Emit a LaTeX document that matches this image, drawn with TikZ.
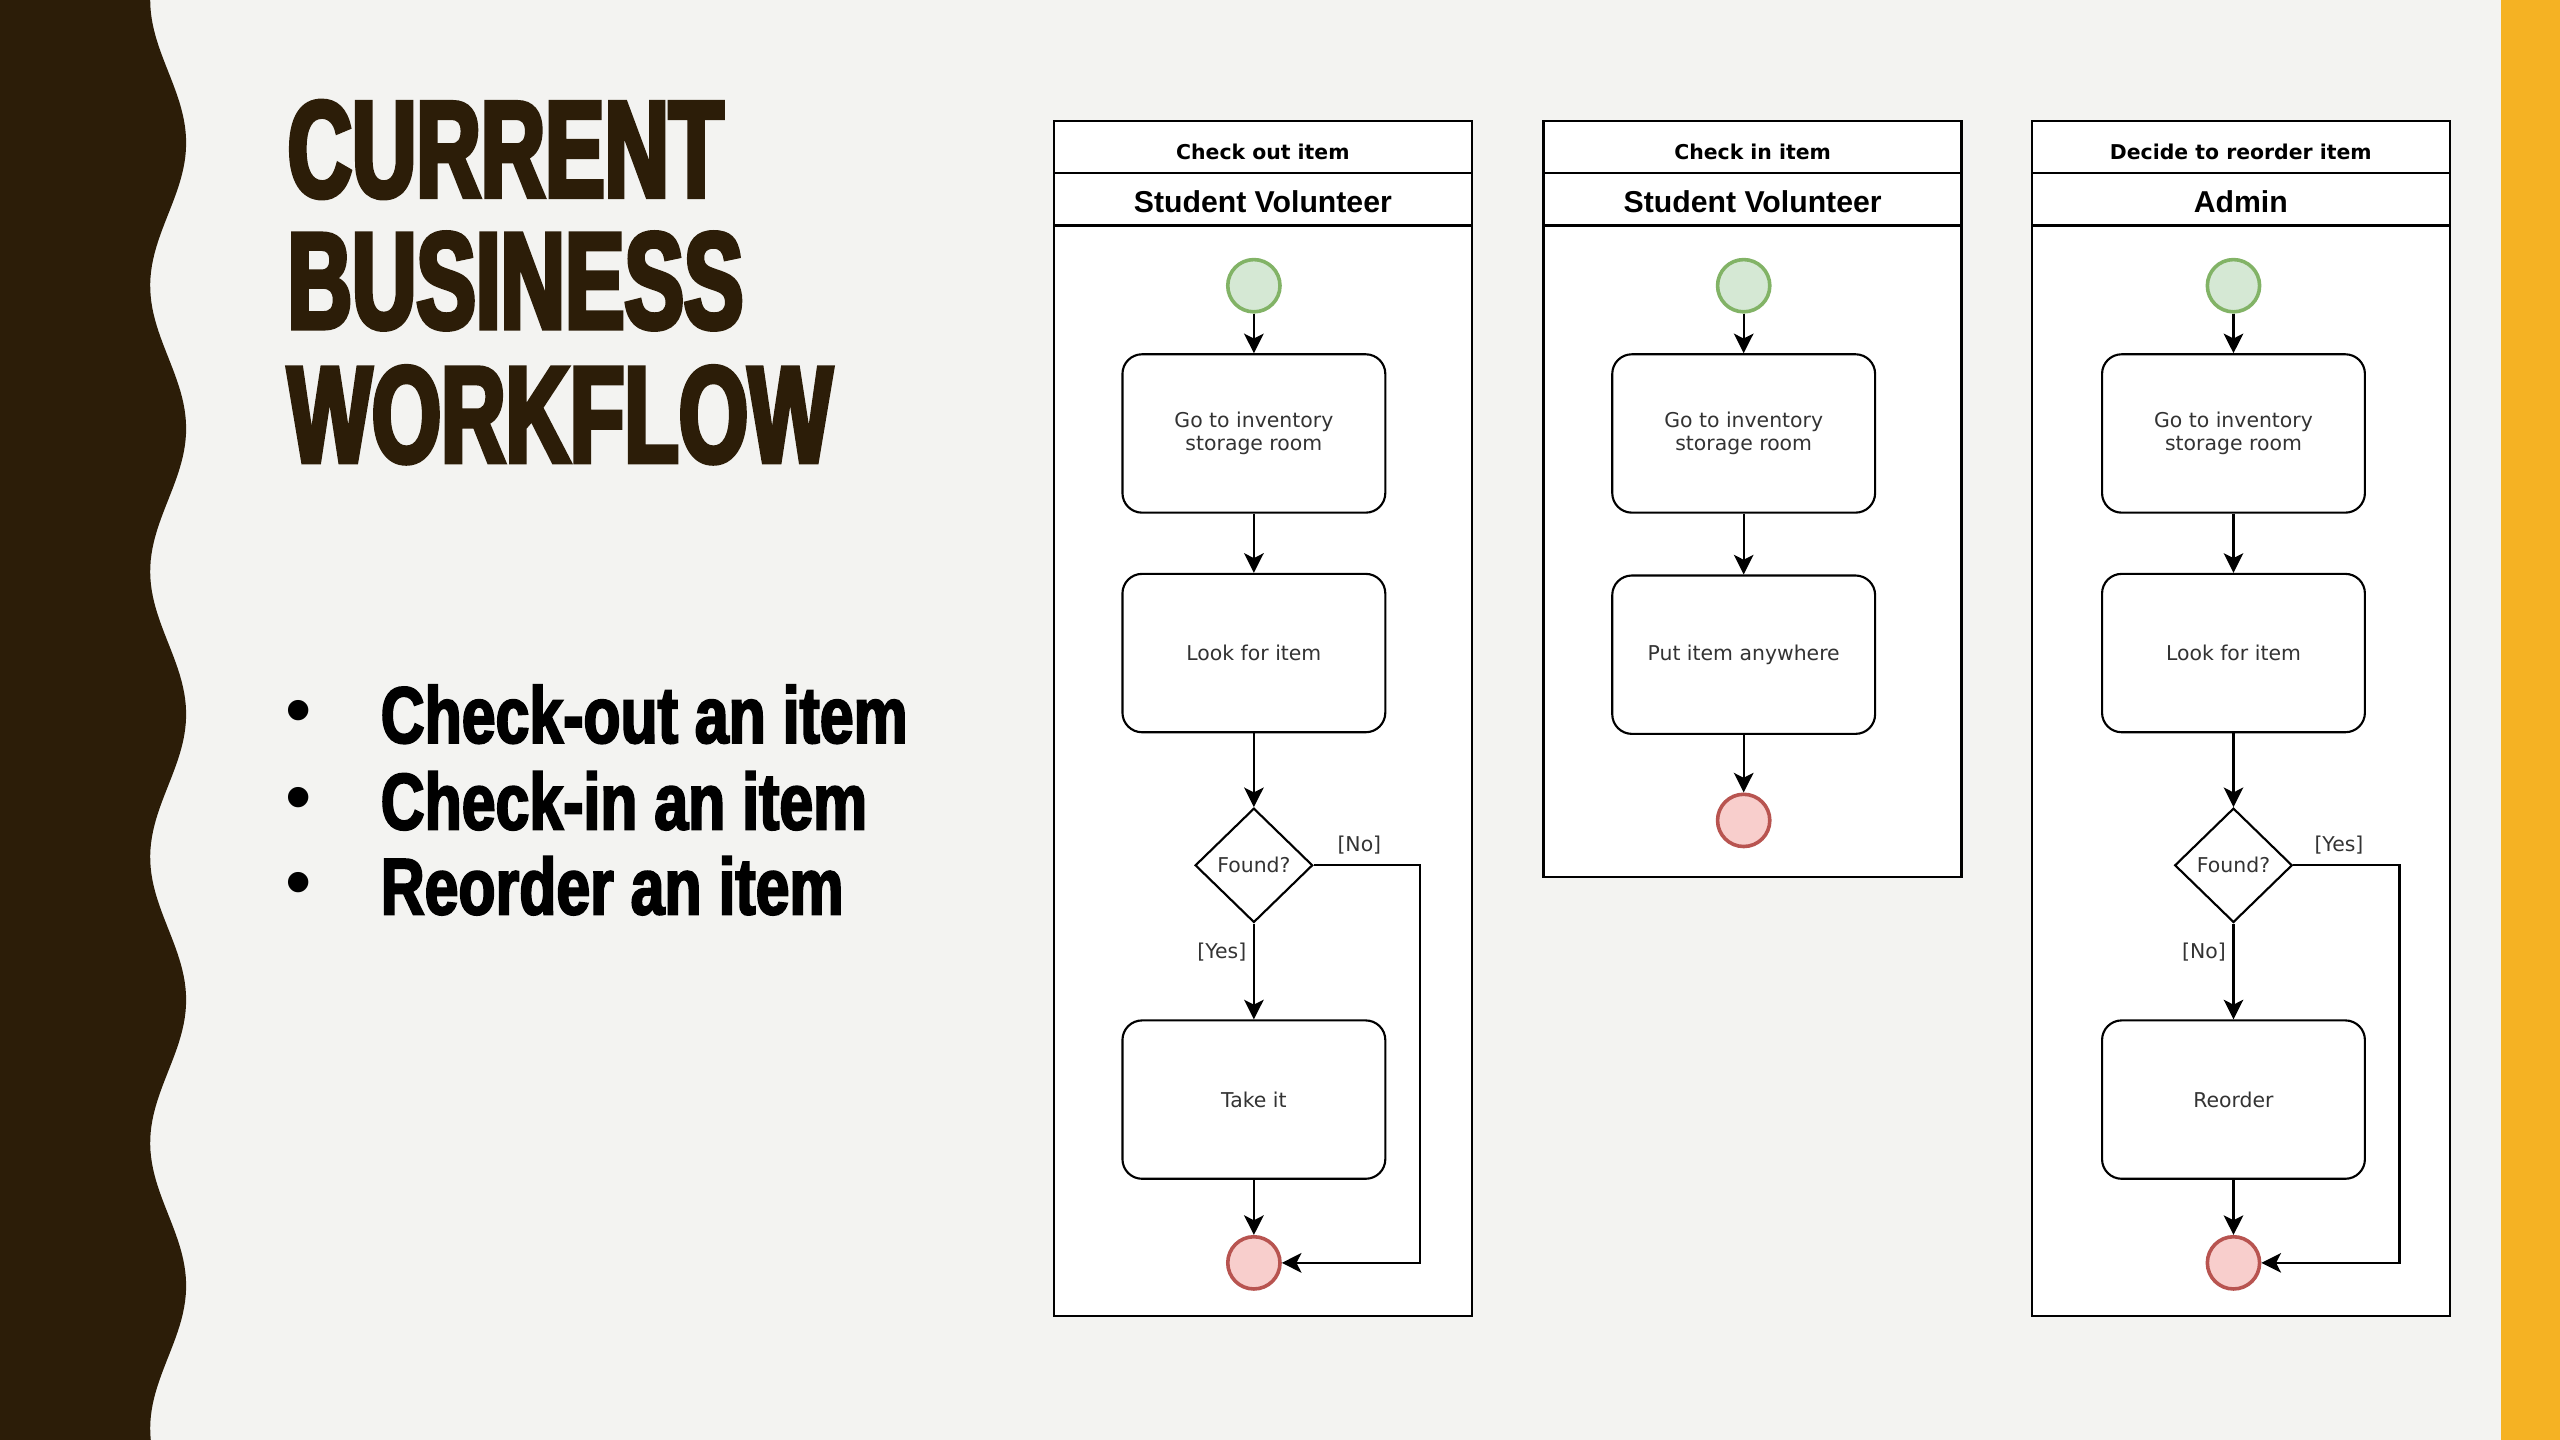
\documentclass[tikz,border=0pt]{standalone}
\usepackage{fontspec}
\setmainfont{DejaVu Sans}
\newfontfamily\titlefont[FakeStretch=0.65,FakeBold=3.5]{Liberation Sans}
\newfontfamily\bulletfont[FakeStretch=0.76,FakeBold=2.5]{Liberation Sans}
\newfontfamily\lanefont{Liberation Sans}
\newfontfamily\dvfont{DejaVu Sans}
\usetikzlibrary{shapes.geometric,arrows.meta}
\definecolor{bg}{RGB}{243,243,241}
\definecolor{darkbrown}{RGB}{44,29,8}
\definecolor{gold}{RGB}{245,178,35}
\definecolor{startfill}{RGB}{213,232,212}
\definecolor{startline}{RGB}{130,179,102}
\definecolor{endfill}{RGB}{248,206,204}
\definecolor{endline}{RGB}{184,84,80}
\definecolor{txtgray}{RGB}{51,51,51}
\begin{document}
\begin{tikzpicture}[x=1pt,y=-1pt,
  lane/.style={draw=black, line width=1.5pt, fill=white, minimum width=256pt, inner sep=0pt},
  hdrA/.style={lane, minimum height=32pt, text height=16pt, text depth=0pt, font=\dvfont\bfseries\fontsize{12.5}{14}\selectfont},
  hdrB/.style={lane, minimum height=32pt, text height=16pt, text depth=0pt, font=\lanefont\bfseries\fontsize{18.5}{20}\selectfont},
  act/.style={draw=black, line width=1.3pt, fill=white, rounded corners=12pt, minimum width=161pt, minimum height=97pt, align=center, text=txtgray, font=\dvfont\fontsize{12.5}{14}\selectfont, inner sep=0pt},
  dec/.style={diamond, draw=black, line width=1.3pt, fill=white, minimum width=72pt, minimum height=70pt, inner sep=0pt, text=txtgray, font=\dvfont\fontsize{12.5}{14}\selectfont},
  startnode/.style={circle, draw=startline, fill=startfill, line width=2.2pt, minimum size=32pt, inner sep=0pt},
  endnode/.style={circle, draw=endline, fill=endfill, line width=2.2pt, minimum size=32pt, inner sep=0pt},
  arr/.style={draw=black, line width=1.4pt, -{Stealth[length=12pt,width=12pt,inset=3pt]}},
  lbl/.style={inner sep=0pt, text=txtgray, font=\dvfont\fontsize{12.5}{14}\selectfont},
  ttl/.style={inner sep=0pt, anchor=base west, text=darkbrown, font=\titlefont\bfseries\fontsize{84}{84}\selectfont},
  bul/.style={inner sep=0pt, anchor=base west, text=black, font=\bulletfont\bfseries\fontsize{49}{50}\selectfont},
  bdot/.style={inner sep=0pt, text=black, font=\lanefont\fontsize{46}{46}\selectfont}
]
\useasboundingbox (0,0) rectangle (1568,882);
% background
\fill[bg] (0,0) rectangle (1568,882);
\fill[gold] (1532,0) rectangle (1568,882);
\fill[darkbrown] (0,0) -- plot[domain=0:882,samples=240,variable=\t] ({103-11*cos(2.057143*\t)},\t) -- (0,882) -- cycle;
% title
\node[ttl] (title1) at (176,120.5) {CURRENT};
\node[ttl] (title2) at (176,201) {BUSINESS};
\node[ttl] (title3) at (176,283) {WORKFLOW};
% bullets
\node[bdot] (bd1) at (183,440) {•};
\node[bdot] (bd2) at (183,493) {•};
\node[bdot] (bd3) at (183,545) {•};
\node[bul] (bl1) at (233,455) {Check-out an item};
\node[bul] (bl2) at (233,508) {Check-in an item};
\node[bul] (bl3) at (233,560) {Reorder an item};

% ---------- lane 1
\node[lane, minimum height=668pt] (body1) at (773.5,472) {};
\node[hdrA] (h1a) at (773.5,90) {Check out item};
\node[hdrB] (h1b) at (773.5,122) {Student Volunteer};
\node[startnode] (s1) at (768,175) {};
\node[act] (a1) at (768,265.5) {Go to inventory\\storage room};
\node[act] (a2) at (768,400) {Look for item};
\node[dec] (d1) at (768,530) {Found?};
\node[act] (t1) at (768,673.5) {Take it};
\node[endnode] (e1) at (768,773.5) {};
\draw[arr] (s1) -- (a1);
\draw[arr] (a1) -- (a2);
\draw[arr] (a2) -- (d1);
\draw[arr] (d1) -- node[lbl, pos=0.3, left=4pt] {[Yes]} (t1);
\draw[arr] (t1) -- (e1);
\draw[arr] (d1.east) -- node[lbl, pos=0.43, above=6pt] {[No]} ++(65,0) |- (e1.east);

% ---------- lane 2
\node[lane, minimum height=399pt] (body2) at (1073.5,337.5) {};
\node[hdrA] (h2a) at (1073.5,90) {Check in item};
\node[hdrB] (h2b) at (1073.5,122) {Student Volunteer};
\node[startnode] (s2) at (1068,175) {};
\node[act] (b1) at (1068,265.5) {Go to inventory\\storage room};
\node[act] (b2) at (1068,401) {Put item anywhere};
\node[endnode] (e2) at (1068,502.5) {};
\draw[arr] (s2) -- (b1);
\draw[arr] (b1) -- (b2);
\draw[arr] (b2) -- (e2);

% ---------- lane 3
\node[lane, minimum height=668pt] (body3) at (1372.5,472) {};
\node[hdrA] (h3a) at (1372.5,90) {Decide to reorder item};
\node[hdrB] (h3b) at (1372.5,122) {Admin};
\node[startnode] (s3) at (1368,175) {};
\node[act] (c1) at (1368,265.5) {Go to inventory\\storage room};
\node[act] (c2) at (1368,400) {Look for item};
\node[dec] (d3) at (1368,530) {Found?};
\node[act] (r3) at (1368,673.5) {Reorder};
\node[endnode] (e3) at (1368,773.5) {};
\draw[arr] (s3) -- (c1);
\draw[arr] (c1) -- (c2);
\draw[arr] (c2) -- (d3);
\draw[arr] (d3) -- node[lbl, pos=0.3, left=4pt] {[No]} (r3);
\draw[arr] (r3) -- (e3);
\draw[arr] (d3.east) -- node[lbl, pos=0.43, above=6pt] {[Yes]} ++(65,0) |- (e3.east);
\end{tikzpicture}
\end{document}
